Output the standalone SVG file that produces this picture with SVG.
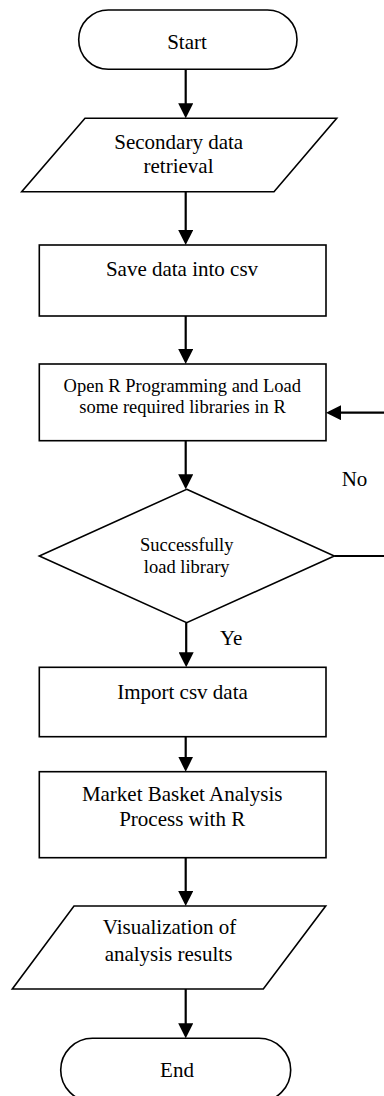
<svg xmlns="http://www.w3.org/2000/svg" width="384" height="1096" viewBox="0 0 384 1096">
<style>
.shape{fill:#fff;stroke:#000;stroke-width:1.6}
.conn{fill:none;stroke:#000;stroke-width:2.2}
text{font-family:"Liberation Serif","Times New Roman",serif;fill:#000;text-anchor:middle}
.big{font-size:21px}
.small{font-size:18.5px}
.lbl{text-anchor:start}
</style>
<defs>
<marker id="ah" markerUnits="userSpaceOnUse" markerWidth="15" markerHeight="15" viewBox="0 0 15 15" refX="12" refY="7.5" orient="auto">
<path d="M0,0 L15,7.5 L0,15 z" fill="#000"/>
</marker>
</defs>
<rect width="384" height="1096" fill="#fff"/>
<g id="start">
<rect class="shape" x="78.7" y="10" width="218.3" height="59.3" rx="29.6" ry="29.6"/>
<text class="big" x="187" y="48.5">Start</text>
</g>
<g id="retrieval">
<polygon class="shape" points="85,118.3 336.7,118.3 274,191.7 21.7,191.7"/>
<text class="big" x="178.7" y="149">Secondary data</text>
<text class="big" x="178.5" y="173">retrieval</text>
</g>
<g id="save">
<rect class="shape" x="39.3" y="245" width="286.7" height="71"/>
<text class="big" x="182" y="276">Save data into csv</text>
</g>
<g id="openr">
<rect class="shape" x="39.3" y="364" width="286.7" height="76.7"/>
<text class="small" x="182.3" y="391.7">Open R Programming and Load</text>
<text class="small" x="182.5" y="413.3">some required libraries in R</text>
</g>
<g id="decision">
<polygon class="shape" points="186.7,489.3 334.3,556 186.7,622.7 39.3,556"/>
<text class="small" x="186.7" y="550.7">Successfully</text>
<text class="small" x="186.7" y="572.7">load library</text>
</g>
<g id="import">
<rect class="shape" x="39.3" y="667.3" width="286.7" height="69.4"/>
<text class="big" x="182.5" y="699.3">Import csv data</text>
</g>
<g id="mba">
<rect class="shape" x="39.3" y="771.7" width="286.7" height="86"/>
<text class="big" x="182.2" y="801">Market Basket Analysis</text>
<text class="big" x="182.2" y="826">Process with R</text>
</g>
<g id="visual">
<polygon class="shape" points="74,906 325.7,906 263.3,989 12.3,989"/>
<text class="big" x="169.5" y="934">Visualization of</text>
<text class="big" x="168.5" y="960.7">analysis results</text>
</g>
<g id="end">
<rect class="shape" x="60.7" y="1038.3" width="230" height="63.4" rx="31.7" ry="31.7"/>
<text class="big" x="177" y="1076.7">End</text>
</g>
<g id="connectors">
<path class="conn" d="M185.7,69.3 V115.3" marker-end="url(#ah)"/>
<path class="conn" d="M185.7,191.7 V242" marker-end="url(#ah)"/>
<path class="conn" d="M185.7,316 V361" marker-end="url(#ah)"/>
<path class="conn" d="M185.7,440.7 V486.3" marker-end="url(#ah)"/>
<path class="conn" d="M186.2,622.7 V664.3" marker-end="url(#ah)"/>
<path class="conn" d="M185.7,736.7 V768.7" marker-end="url(#ah)"/>
<path class="conn" d="M185.7,857.7 V903" marker-end="url(#ah)"/>
<path class="conn" d="M185.7,989 V1035.3" marker-end="url(#ah)"/>
<path class="conn" d="M334.3,556 H387 V412.7 H329" marker-end="url(#ah)"/>
<text class="big lbl" x="341.7" y="486">No</text>
<text class="big lbl" x="220" y="645">Ye</text>
</g>
</svg>
